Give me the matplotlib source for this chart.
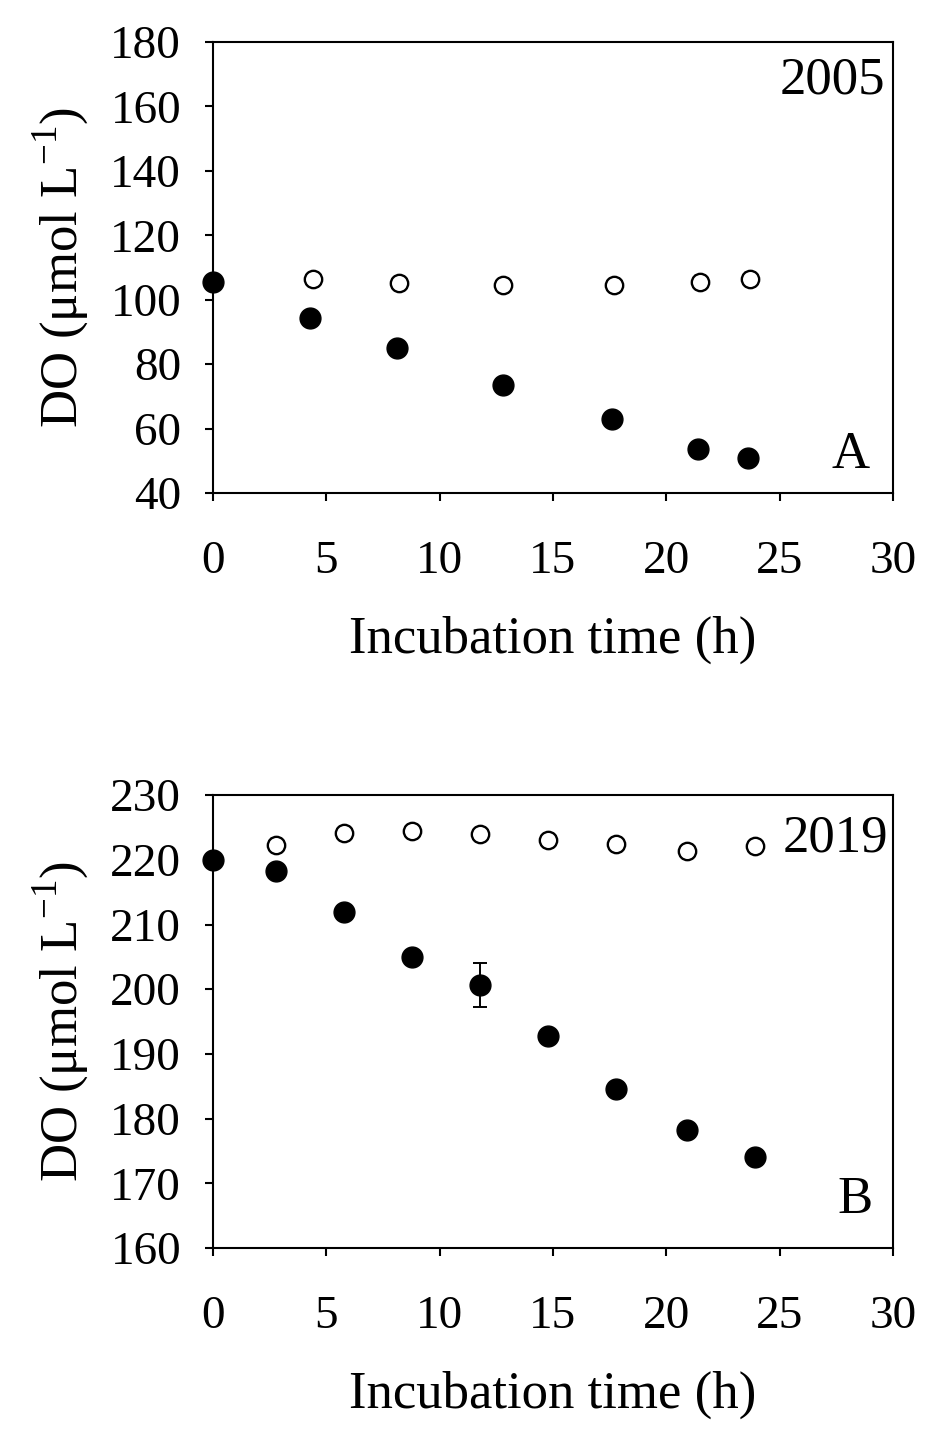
import matplotlib
matplotlib.use("Agg")
import matplotlib.pyplot as plt

plt.rcParams['font.family'] = ['Liberation Serif', 'DejaVu Serif']
plt.rcParams['mathtext.fontset'] = 'custom'
plt.rcParams['mathtext.rm'] = 'Liberation Serif'

# Panel A (2005)
a_time_filled = [0, 4.3, 8.1, 12.8, 17.6, 21.4, 23.6]
a_do_filled = [105.5, 94.2, 85.0, 73.6, 62.8, 53.6, 50.8]
a_err_filled = [0.8, 0.8, 0.8, 0.8, 0.8, 0.8, 0.8]
a_time_open = [4.4, 8.2, 12.8, 17.7, 21.5, 23.7]
a_do_open = [106.5, 105.3, 104.4, 104.7, 105.6, 106.5]
a_err_open = [0.5, 0.6, 1.2, 0.8, 1.8, 1.8]

# Panel B (2019)
b_time_filled = [0, 2.8, 5.8, 8.8, 11.8, 14.8, 17.8, 20.9, 23.9]
b_do_filled = [220.0, 218.3, 211.9, 205.0, 200.7, 192.8, 184.6, 178.2, 174.1]
b_err_filled = [0.5, 0.9, 0.5, 0.5, 3.4, 0.5, 0.5, 0.6, 0.5]
b_time_open = [2.8, 5.8, 8.8, 11.8, 14.8, 17.8, 20.9, 23.9]
b_do_open = [222.3, 224.1, 224.4, 224.0, 223.0, 222.5, 221.3, 222.1]
b_err_open = [0.9, 0.7, 0.9, 0.7, 0.7, 0.7, 0.8, 0.6]

xticks = [0, 5, 10, 15, 20, 25, 30]
a_yticks = [40, 60, 80, 100, 120, 140, 160, 180]
b_yticks = [160, 170, 180, 190, 200, 210, 220, 230]

fig = plt.figure(figsize=(9.5, 14.43), dpi=100)
axA = fig.add_axes([0.2242, 0.6584, 0.7158, 0.3125])
axB = fig.add_axes([0.2242, 0.1351, 0.7158, 0.3139])

FS = 34
LFS = 38
ylab = 'DO (μmol L$^{-1}$)'

def style(ax, yticks, ylim):
    ax.set_xlim(0, 30)
    ax.set_ylim(*ylim)
    ax.set_xticks(xticks)
    ax.set_yticks(yticks)
    ax.tick_params(direction='out', length=6, width=1.5, labelsize=FS)
    ax.tick_params(axis='x', pad=28)
    ax.tick_params(axis='y', pad=17)
    for s in ax.spines.values():
        s.set_linewidth(1.5)
    ax.set_xlabel('Incubation time (h)', fontsize=LFS, labelpad=24)
    ax.set_ylabel(ylab, fontsize=LFS, labelpad=14)

def draw(ax, tf, yf, ef, to, yo, eo):
    ax.errorbar(to, yo, yerr=eo, fmt='o', ms=12.5, mfc='white', mec='black',
                mew=1.7, ecolor='black', elinewidth=1.4, capsize=4, capthick=1.4,
                clip_on=False, zorder=3)
    ax.errorbar(tf, yf, yerr=ef, fmt='o', ms=15, mfc='black', mec='black',
                ecolor='black', elinewidth=1.4, capsize=5, capthick=1.4,
                clip_on=False, zorder=4)

draw(axA, a_time_filled, a_do_filled, a_err_filled, a_time_open, a_do_open, a_err_open)
style(axA, a_yticks, (40, 180))
axA.text(0.988, 0.915, '2005', transform=axA.transAxes, ha='right', va='center', fontsize=LFS)
axA.text(0.966, 0.084, 'A', transform=axA.transAxes, ha='right', va='center', fontsize=LFS)

draw(axB, b_time_filled, b_do_filled, b_err_filled, b_time_open, b_do_open, b_err_open)
style(axB, b_yticks, (160, 230))
axB.text(0.993, 0.905, '2019', transform=axB.transAxes, ha='right', va='center', fontsize=LFS)
axB.text(0.97, 0.106, 'B', transform=axB.transAxes, ha='right', va='center', fontsize=LFS)

fig.savefig('out.png', dpi=100)
